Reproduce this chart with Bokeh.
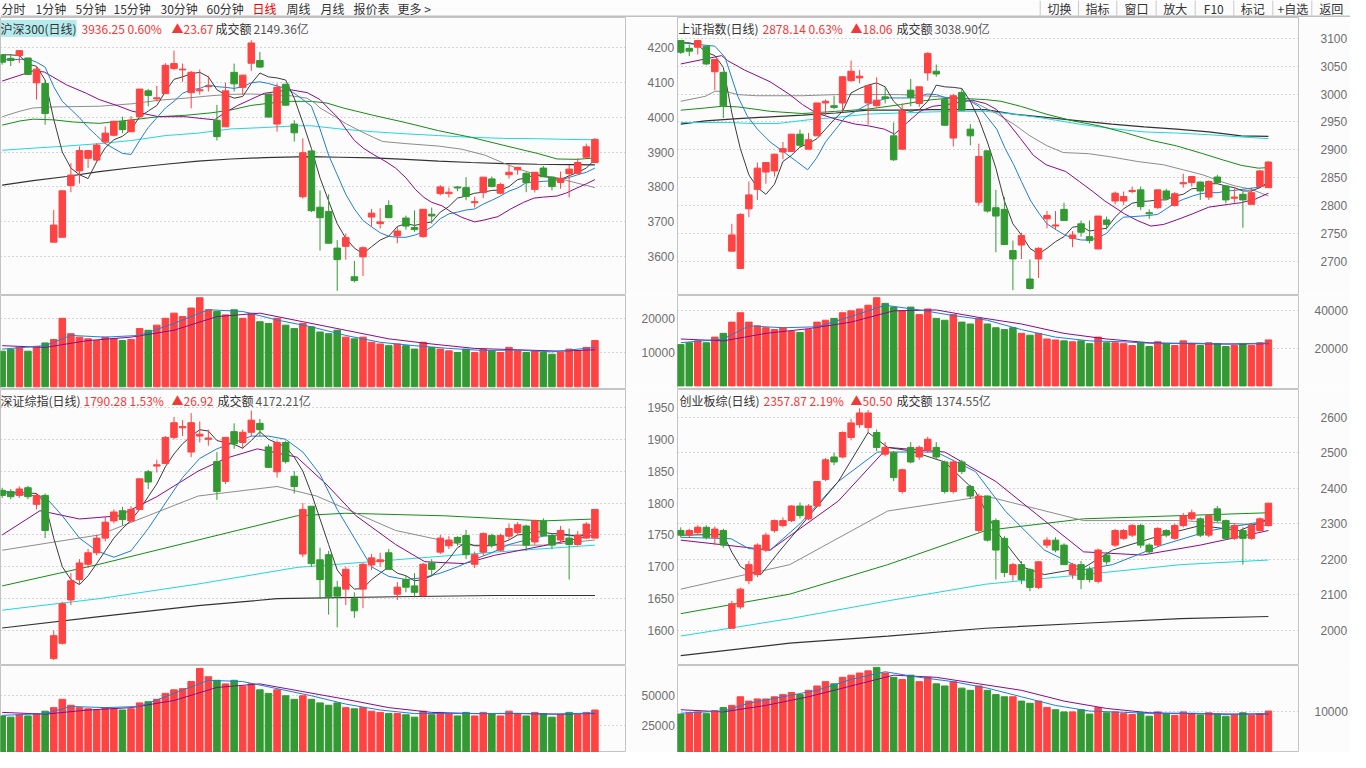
from bokeh.plotting import figure
from bokeh.layouts import column, row
from bokeh.models import Range1d, FixedTicker, Label
from bokeh.embed import file_html
from bokeh.resources import INLINE
from bokeh.core.properties import value

# ================= 沪深300 =================
HS_O = [4178,4168,4176,4169,4098,4096,3642,3656,3804,3846, 3882,3877,3929,3948,3987,3958,4001,4075,4052,4067,
        4139,4135,4070,4075,4087,3991,3972,4128,4085,4154, 4162,4066,3980,4094,3980,3772,3903,3742,3730,3625,
        3630,3543,3600,3714,3695,3747,3660,3711,3684,3658, 3722,3781,3781,3800,3798,3755,3784,3823,3782,3835,
        3849,3839,3793,3854,3828,3813,3838,3839,3885,3870]
HS_H = [4180,4180,4190,4169,4145,4106,3734,3789,3868,3916, 3904,3925,3973,3988,4001,4003,4080,4080,4089,4154,
        4190,4153,4132,4136,4118,4035,4098,4153,4120,4220, 4186,4066,4096,4094,3991,3939,3903,3790,3779,3648,
        3667,3588,3630,3737,3739,3762,3686,3718,3733,3736, 3741,3805,3798,3802,3828,3772,3828,3830,3812,3863,
        3856,3842,3842,3860,3830,3844,3863,3882,3924,3940]
HS_L = [4150,4146,4155,4120,4050,3978,3642,3656,3785,3810, 3854,3872,3924,3945,3954,3958,4001,4031,4045,4067,
        4134,4101,4025,4064,4073,3933,3972,4073,4064,4132, 4141,4000,3958,4033,3930,3767,3728,3618,3639,3503,
        3592,3527,3545,3687,3681,3712,3639,3678,3672,3655, 3695,3776,3770,3788,3762,3741,3768,3799,3779,3824,
        3835,3785,3784,3829,3790,3795,3770,3837,3885,3870]
HS_C = [4157,4162,4190,4122,4137,4010,3691,3789,3834,3904, 3904,3920,3954,3988,3964,3991,4080,4062,4055,4148,
        4153,4137,4128,4078,4089,3944,4075,4095,4120,4212, 4143,4000,4085,4034,3955,3898,3732,3712,3639,3592,
        3655,3532,3626,3725,3700,3712,3674,3688,3678,3736, 3717,3800,3785,3797,3773,3758,3828,3801,3807,3842,
        3856,3812,3842,3829,3801,3825,3851,3870,3915,3936]
HS_MA5_X = list(range(70))
HS_MA5 = [4178,4178,4176,4152,4145,4106,3994,3900,3854,3835, 3824,3872,3912,3935,3945,3964,4001,4017,4033,4073,
          4108,4115,4124,4128,4115,4078,4064,4054,4059,4096, 4126,4115,4112,4106,4054,3984,3910,3826,3760,3695,
          3653,3625,3609,3629,3648,3659,3687,3695,3690,3695, 3700,3728,3744,3768,3774,3782,3785,3790,3791,3801,
          3821,3826,3835,3830,3826,3821,3832,3842,3854,3879]
HS_MA10_X = list(range(70))
HS_MA10 = [4164,4164,4165,4166,4157,4143,4087,4045,4022,3998, 3970,3947,3924,3910,3896,3893,3933,3970,3998,4026,
           4045,4068,4078,4082,4092,4087,4085,4082,4087,4098, 4101,4096,4089,4082,4068,4050,4031,3966,3891,3835,
           3779,3737,3704,3686,3669,3659,3656,3656,3662,3671, 3686,3709,3723,3728,3734,3737,3751,3762,3774,3788,
           3797,3812,3814,3816,3818,3821,3827,3835,3842,3854]
HS_MA20_X = [0,3.6,4.9,7.5,9.8,11.3,13.6,15.1,18.2,21.3,22.8,24.7,25.9,27.4,28.9,30.5,32,33.6,35.5,37,38.1,39.1,40,41,
             42.1,43.2,44.7,45.8,47,48.1,49.1,50,51.2,52.3,53.5,55,56.2,57.7,59.2,60.7,61.9,63,64.6,65.7,66.9,68,69]
HS_MA20 = [4103,4132,4129,4092,4068,4050,4031,4017,4001,4001,3997,3992,4012,4033,4050,4068,4073,4078,4070,4050,4022,3998,
           3966,3933,3910,3893,3872,3854,3826,3793,3770,3756,3746,3728,3713,3700,3706,3715,3737,3756,3768,3771,3774,3783,
           3797,3809,3821]
HS_MA30_X = [0,2.1,3.6,6,11.3,15.1,18.2,21.3,24.3,26.6,28.9,31.2,33.6,35.5,36.4,37,38.6,40.1,41.6,43.2,44.3,47,50.8,
             53.5,56.2,58.4,60.4,62.3,64.6,66.1,67.6,69]
HS_MA30 = [4001,4017,4026,4029,4031,4038,4048,4054,4061,4065,4066,4064,4061,4054,4040,4026,4003,3980,3961,3942,3930,
           3924,3917,3908,3891,3868,3849,3835,3826,3816,3807,3798]
HS_MA60_X = [0,2.1,3.6,6,8.2,11.3,15.1,18.2,21.3,24.3,26.6,28.9,31.2,33.6,36,37.8,39.7,43.2,47,50.8,54.6,58.4,62.3,
             64.6,66.9,69]
HS_MA60 = [3977,3989,3994,3992,3986,3982,3992,4001,4005,4012,4020,4033,4040,4045,4045,4040,4026,4005,3984,3961,3942,
           3919,3896,3880,3879,3883]
HS_MA120_X = [0,3.6,7.5,11.3,15.1,19,22.8,26.6,30.5,34.3,36,39.3,43.2,47,50.8,54.6,58.4,62.3,66.1,69]
HS_MA120 = [3905,3911,3917,3924,3933,3947,3954,3966,3970,3975,3975,3966,3958,3952,3947,3942,3939,3938,3936,3935]
HS_MA250_X = [0,3.6,7.5,11.3,15.1,19,22.8,26.6,30.5,34.3,36,39.3,43.2,47,50.8,54.6,58.4,62.3,66.1,69]
HS_MA250 = [3805,3818,3830,3844,3855,3865,3874,3880,3884,3886,3887,3885,3883,3879,3874,3870,3867,3865,3864,3863]
HS_VOL = [10400,10900,11500,10400,11800,12800,13800,20000,15500,14500, 14000,13500,14500,14000,13500,13800,17000,16500,18000,20000,
          21500,20500,23000,26000,22500,22000,21000,22500,20000,21500, 19000,18500,20000,18000,17000,18500,17500,16000,15500,16500,
          14500,14000,14500,13000,12500,12000,12500,12000,11000,13000, 11500,11000,10500,10000,11000,10000,11000,10500,10000,11500,
          10500,10000,10500,10000,9500,10000,11000,10500,11500,13500]
HS_VMA5_X = [0,5,8,12,16,20,24,28,32,36,40,44,48,52,56,60,64,69]
HS_VMA5 = [11000,12000,15000,14500,15000,18500,22500,22000,19500,17500,15000,13000,12000,11200,10600,10700,10200,11500]
HS_VMA10_X = [0,5,10,15,20,25,30,35,40,45,50,55,60,65,69]
HS_VMA10 = [12000,11500,13500,14500,16500,20500,21500,19000,16500,14000,12500,11200,10800,10400,10800]

# ================= 上证指数 =================
SH_O = [3096,3082,3084,3086,3040,3039,2718,2687,2794,2829, 2860,2862,2896,2897,2928,2901,2925,2984,2979,2984,
        3024,3029,2984,2979,2995,2925,2901,3007,2983,3038, 3041,2990,2921,3003,2937,2806,2898,2796,2793,2719,
        2729,2668,2704,2776,2763,2793,2741,2767,2744,2722, 2774,2808,2808,2825,2828,2787,2796,2826,2800,2839,
        2841,2842,2815,2851,2835,2813,2820,2802,2834,2832]
SH_H = [3096,3089,3096,3086,3062,3039,2767,2786,2843,2877, 2877,2893,2914,2928,2936,2930,2984,2990,2997,3032,
        3060,3043,3015,3030,3013,2949,2983,3027,3013,3075, 3053,2990,3000,3010,2946,2911,2898,2828,2815,2737,
        2751,2703,2725,2790,2790,2805,2754,2773,2773,2781, 2780,2825,2825,2834,2834,2793,2828,2830,2824,2857,
        2852,2843,2845,2855,2835,2833,2825,2832,2864,2879]
SH_L = [3072,3068,3071,3052,3007,2957,2718,2687,2779,2810, 2839,2852,2883,2897,2903,2901,2925,2962,2973,2970,
        3022,3019,2945,2977,2983,2880,2901,2978,2977,3024, 3031,2943,2906,2971,2908,2800,2787,2716,2730,2648,
        2704,2649,2670,2759,2757,2773,2725,2744,2732,2722, 2757,2802,2801,2822,2792,2776,2794,2810,2798,2832,
        2834,2810,2810,2839,2804,2805,2760,2802,2834,2832]
SH_C = [3075,3077,3096,3054,3062,2979,2747,2784,2819,2867, 2877,2892,2902,2928,2908,2918,2984,2987,2976,3031,
        3041,3032,3015,2989,2992,2882,2970,2994,3013,3073, 3036,2944,2997,2971,2925,2888,2790,2781,2730,2704,
        2746,2651,2723,2782,2765,2773,2747,2752,2737,2781, 2766,2822,2816,2827,2798,2785,2828,2812,2821,2841,
        2852,2826,2843,2841,2810,2815,2810,2823,2862,2878]
SH_MA5_X = list(range(70))
SH_MA5 = [3092,3092,3088,3075,3069,3048,2966,2902,2855,2832, 2820,2838,2879,2890,2905,2911,2920,2937,2954,2969,
          3002,3010,3016,3020,3013,2987,2972,2969,2972,2987, 3016,3013,3012,3010,2987,2955,2914,2867,2808,2767,
          2747,2723,2713,2723,2735,2744,2761,2763,2754,2757, 2759,2779,2794,2804,2807,2808,2810,2810,2817,2820,
          2830,2831,2839,2839,2835,2832,2826,2826,2832,2842]
SH_MA10_X = [0,4,5.2,6.7,7.8,9,10.5,12.1,13.6,14.9,15.9,17,18.2,19.3,20.5,21.9,23,24.3,25.8,27.4,28.9,30,31.2,32.7,34,35,
             37.1,38.1,39.1,40,41.1,42.1,43,44.1,45.1,46.1,47,48.1,49.1,50,51,52,53.1,54,55,56,57,58,59,60.1,61,62,63.1,
             64,65,66,67,68,69]
SH_MA10 = [3092,3086,3066,2996,2961,2937,2914,2896,2879,2864,2884,2914,2937,2958,2969,2981,2987,2993,2993,2993,3000,2999,
           2993,2993,2987,2978,2937,2902,2873,2843,2808,2785,2767,2756,2747,2741,2738,2738,2743,2750,2767,2779,2780,2781,
           2782,2784,2794,2804,2811,2817,2821,2823,2823,2826,2827,2829,2831,2833,2838]
SH_MA20_X = [0,2.9,4.8,5.5,7.5,10.5,12.8,14.3,15.9,18.2,20.5,22,23.9,25.1,26.6,28.1,29.6,31.2,32.7,34.2,35.8,37.1,38.4,
             39.9,41.4,42.9,45.2,46.8,48.3,49.8,52.1,53.6,55.2,56.7,58.2,60.1,62,64.3,65.8,67.4,69]
SH_MA20 = [3054,3063,3069,3060,3043,3022,2999,2981,2966,2955,2946,2943,2937,2928,2949,2969,2978,2981,2985,2989,2983,2972,
           2949,2920,2890,2873,2861,2843,2826,2808,2785,2773,2763,2766,2774,2785,2797,2802,2805,2811,2822]
SH_MA30_X = [0,2.9,4,5.2,6.7,8.9,14.3,18.2,22,25.8,29.6,31.9,34.2,35.8,37.2,39.1,41,42.9,44.9,47.9,50.6,53.6,56.7,59,
             61.3,63.6,65.1,67,69]
SH_MA30 = [2987,2996,3005,3005,2999,2997,2997,2999,2999,2999,2996,2993,2987,2975,2964,2946,2925,2908,2895,2893,2887,2879,
           2873,2864,2855,2842,2835,2829,2817]
SH_MA60_X = [0,2.9,4.8,6.7,10.5,14.3,18.2,22,25.8,28.1,29.6,31.9,35.8,37.6,39.9,42.9,46,49.1,52.1,55.2,58.2,61.3,63.6,
             65.8,67.8,69]
SH_MA60 = [2971,2975,2978,2977,2969,2965,2969,2973,2981,2987,2990,2993,2990,2987,2978,2964,2952,2943,2931,2917,2907,2893,
           2882,2872,2867,2868]
SH_MA120_X = [0,5.5,8.6,11.3,15.1,18.2,22,25.8,29.6,33.5,35.8,39.1,42.9,46.8,50.6,54.4,58.2,62,65.8,69]
SH_MA120 = [2949,2949,2947,2947,2954,2958,2964,2966,2968,2969,2969,2964,2956,2946,2938,2932,2930,2927,2923,2920]
SH_MA250_X = [0,2.9,6.7,10.5,14.3,18.2,22,25.8,29.6,33.5,35.8,39.1,42.9,46.8,50.6,54.4,58.2,62,65.8,69]
SH_MA250 = [2946,2952,2956,2959,2962,2966,2971,2971,2972,2972,2972,2964,2958,2952,2946,2941,2937,2932,2925,2924]
SH_VOL = [22000,23000,24000,23000,26000,28000,34000,39000,34000,32000, 31000,30000,31000,29000,28500,30000,34000,35000,36000,39000,
          40000,41000,43000,47000,44000,42000,40000,42000,38000,41000, 36000,35000,38000,34000,33000,36000,33000,31000,30000,31000,
          28000,27000,28000,25000,24500,24000,23500,24000,22500,26000, 23000,23000,22500,21500,23000,21000,23500,22500,21500,24000,
          22500,21500,23000,22500,21000,21500,22500,21500,23000,24500]
SH_VMA5_X = [0,5,8,12,16,20,24,28,32,36,40,44,48,52,56,60,64,69]
SH_VMA5 = [23000,25000,32000,31000,31500,37000,43000,40500,37500,35000,30000,26000,24000,23500,22500,22800,22300,22800]
SH_VMA10_X = [0,5,10,15,20,25,30,35,40,45,50,55,60,65,69]
SH_VMA10 = [25000,24000,28000,30500,34000,40000,40500,36500,33000,28000,25000,23000,22500,22300,22500]

# ================= 深证综指 =================
SZ_O = [1820,1818,1812,1824,1798,1812,1556,1580,1648,1680, 1704,1722,1745,1772,1788,1772,1790,1849,1858,1862,
        1903,1918,1880,1905,1900,1865,1834,1912,1895,1911, 1925,1888,1849,1895,1842,1720,1795,1711,1719,1668,
        1665,1650,1665,1703,1708,1722,1657,1680,1670,1655, 1706,1723,1733,1746,1749,1704,1723,1749,1726,1748,
        1754,1764,1739,1772,1749,1742,1745,1735,1745,1745]
SZ_H = [1824,1822,1826,1827,1816,1815,1600,1645,1690,1712, 1728,1750,1778,1790,1794,1795,1838,1852,1868,1905,
        1935,1930,1941,1928,1915,1880,1903,1925,1915,1945, 1932,1892,1898,1898,1850,1800,1795,1730,1725,1678,
        1700,1660,1706,1720,1722,1728,1676,1686,1690,1706, 1712,1750,1748,1748,1758,1724,1754,1752,1752,1768,
        1770,1766,1774,1776,1752,1764,1760,1756,1770,1790]
SZ_L = [1808,1806,1808,1806,1790,1745,1554,1578,1640,1672, 1698,1718,1740,1768,1765,1770,1790,1822,1848,1862,
        1900,1905,1872,1895,1890,1805,1830,1885,1885,1905, 1905,1855,1840,1862,1815,1715,1700,1650,1625,1605,
        1640,1620,1635,1695,1700,1696,1648,1660,1652,1652, 1685,1720,1728,1733,1712,1698,1718,1730,1724,1742,
        1750,1725,1735,1748,1728,1736,1680,1733,1744,1745]
SZ_C = [1812,1810,1822,1810,1812,1757,1592,1642,1678,1706, 1722,1745,1770,1786,1774,1790,1838,1833,1860,1903,
        1926,1920,1926,1908,1902,1818,1903,1893,1911,1930, 1915,1856,1895,1865,1826,1790,1705,1680,1653,1654,
        1696,1631,1704,1714,1711,1696,1668,1668,1660,1704, 1696,1745,1742,1738,1719,1719,1752,1734,1749,1760,
        1766,1734,1772,1749,1734,1757,1735,1750,1767,1790]
SZ_MA5_X = [0] + list(range(4, 70))
SZ_MA5 = [1818, 1815,1800,1745,1700,1680,1672, 1686,1705,1725,1745,1760,1773,1790,1810,1830,1857,
          1877,1893,1905,1915,1913,1898,1895,1892,1886,1898, 1912,1900,1894,1888,1872,1850,1815,1775,1735,1695,
          1678,1665,1666,1680,1690,1700,1690,1686,1678,1680, 1686,1697,1712,1730,1738,1733,1733,1733,1737,1742,
          1750,1751,1756,1754,1752,1752,1750,1748,1750,1763]
SZ_MA10_X = [0,5,7,9,11,13,15,17,19,21,23,25,27,29,31,33,35,37,39,41,43,45,47,49,51,53,55,57,59,61,63,65,67,69]
SZ_MA10 = [1816,1810,1780,1745,1725,1715,1725,1760,1800,1840,1870,1885,1895,1905,1905,1900,1880,1845,1790,1745,
           1700,1685,1680,1683,1690,1700,1712,1722,1735,1742,1748,1750,1748,1756]
SZ_MA20_X = [0,4.4,9,13.6,18,22.8,26,29.7,34.3,37.7,41.2,45.8,49.2,53.8,57.3,63,69]
SZ_MA20 = [1750,1788,1775,1780,1810,1850,1870,1885,1872,1830,1780,1735,1708,1705,1718,1733,1750]
SZ_MA30_X = [0,11.3,22.8,32,36.6,45.8,53.8,63,69]
SZ_MA30 = [1726,1750,1811,1826,1811,1757,1734,1734,1742]
SZ_MA60_X = [0,11.3,22.8,34.3,40,51.5,63,69]
SZ_MA60 = [1670,1704,1742,1780,1784,1780,1772,1775]
SZ_MA120_X = [0,11.3,22.8,34.3,45.8,57.3,69]
SZ_MA120 = [1632,1650,1673,1699,1711,1723,1734]
SZ_MA250_X = [0,11.3,22.8,32,45.8,57.3,69]
SZ_MA250 = [1604,1622,1639,1650,1653,1655,1655]
SZ_VOL = [33000,32000,34000,33000,35000,37000,40000,47000,42000,40000, 39000,38000,40000,39000,38000,39000,44000,45000,47000,52000,
          55000,56000,62000,73000,66000,63000,60000,63000,58000,60000, 55000,52000,55000,50000,47000,50000,47000,44000,42000,44000,
          40000,39000,40000,37000,36000,35000,35000,34000,32000,37000, 34000,36000,35000,33000,36000,33000,36000,35000,33000,37000,
          35000,33000,36000,35000,32000,34000,36000,34000,36000,38000]
SZ_VMA5_X = [0,5,8,12,16,20,24,28,32,36,40,44,48,52,56,60,64,69]
SZ_VMA5 = [33500,35000,41000,40000,41000,52000,63000,62000,56000,50000,43000,38000,35000,35000,35000,35200,34500,35500]
SZ_VMA10_X = [0,5,10,15,20,25,30,35,40,45,50,55,60,65,69]
SZ_VMA10 = [36000,34500,38000,40000,46000,57000,60000,53500,47000,40000,36000,35000,35000,34500,35000]

# ================= 创业板综 =================
CY_O = [2281,2268,2275,2290,2262,2281,2006,2066,2140,2157, 2226,2281,2295,2309,2350,2314,2350,2425,2488,2488,
        2543,2579,2571,2557,2496,2500,2391,2515,2488,2507, 2515,2474,2391,2474,2405,2281,2378,2309,2259,2157,
        2185,2171,2121,2240,2254,2240,2157,2185,2171,2138, 2212,2240,2259,2268,2295,2240,2240,2281,2259,2295,
        2314,2314,2268,2342,2309,2259,2281,2259,2281,2295]
CY_H = [2290,2286,2296,2296,2292,2286,2083,2120,2195,2245, 2275,2312,2318,2352,2360,2355,2420,2485,2500,2560,
        2595,2625,2620,2565,2530,2505,2455,2530,2520,2545, 2530,2478,2480,2480,2410,2385,2380,2315,2265,2190,
        2195,2175,2195,2262,2262,2245,2190,2195,2180,2230, 2220,2285,2285,2300,2300,2245,2290,2285,2300,2330,
        2340,2318,2326,2350,2312,2300,2290,2300,2318,2358]
CY_L = [2262,2262,2270,2256,2240,2232,2006,2060,2130,2150, 2220,2275,2290,2305,2315,2310,2348,2420,2465,2485,
        2535,2570,2555,2505,2490,2420,2385,2470,2480,2500, 2480,2385,2385,2440,2370,2275,2250,2143,2150,2140,
        2130,2110,2116,2232,2220,2185,2145,2116,2135,2132, 2185,2235,2255,2262,2232,2215,2235,2262,2255,2290,
        2310,2262,2262,2305,2255,2255,2185,2255,2278,2292]
CY_C = [2268,2281,2290,2262,2285,2240,2075,2116,2185,2240, 2268,2309,2309,2350,2323,2350,2419,2480,2474,2557,
        2584,2612,2612,2515,2515,2430,2452,2474,2515,2538, 2488,2391,2474,2447,2378,2378,2254,2226,2163,2185,
        2143,2121,2193,2254,2226,2185,2185,2143,2143,2226, 2193,2281,2281,2295,2240,2221,2287,2268,2295,2323,
        2331,2268,2323,2309,2259,2295,2259,2295,2314,2358]
CY_MA5_X = [0,5,6,7,8,9.4,11.7,15.1,18.5,22,24.3,27,31,34.6,37,40.4,42.7,47.3,50.7,56.5,61,65.6,69]
CY_MA5 = [2268,2270,2220,2180,2165,2157,2226,2323,2419,2557,2515,2505,2474,2391,2281,2176,2157,2176,2226,2268,2295,2281,2314]
CY_MA10_X = [0,5.9,8,10.5,14,18.5,23.1,30,34.6,38.1,42.7,47.3,50.7,56.5,62.2,69]
CY_MA10 = [2262,2258,2230,2226,2300,2419,2502,2502,2447,2336,2226,2171,2185,2240,2281,2309]
CY_MA20_X = [0,10.5,18.5,24.3,31,37,42.7,47.3,54.2,61,69]
CY_MA20 = [2254,2226,2364,2515,2502,2419,2309,2221,2212,2240,2281]
CY_MA30_X = [0,12.8,24.3,35.8,47.3,58.7,69]
CY_MA30 = [2116,2185,2336,2378,2309,2309,2295]
CY_MA60_X = [0,12.8,24.3,35.8,47.3,58.7,69]
CY_MA60 = [2047,2102,2185,2281,2314,2323,2331]
CY_MA120_X = [0,12.8,24.3,35.8,47.3,58.7,69]
CY_MA120 = [1984,2033,2083,2130,2157,2185,2198]
CY_MA250_X = [0,12.8,24.3,35.8,47.3,58.7,69]
CY_MA250 = [1929,1964,1984,2006,2020,2033,2039]
CY_VOL = [9500,9800,10000,9600,10300,11000,11500,13500,12500,13000, 13000,13500,14000,14500,14000,15000,16000,17000,16500,18000,
          18500,19000,19500,20300,19000,18000,17500,18500,17000,18000, 16500,16000,17000,15500,15000,16000,15000,14000,13500,13500,
          12500,12000,12500,11000,10500,10000,10000,10500,9500,11000, 9800,10000,9600,9400,9800,9000,10000,9600,9200,10000,
          9600,9300,9800,9500,9000,9300,9800,9200,9600,10200]
CY_VMA5_X = [0,5,8,12,16,20,24,28,32,36,40,44,48,52,56,60,64,69]
CY_VMA5 = [9700,10200,12000,13500,15000,17500,19300,18000,17000,15500,13500,11500,10200,9900,9600,9700,9400,9600]
CY_VMA10_X = [0,5,10,15,20,25,30,35,40,45,50,55,60,65,69]
CY_VMA10 = [10500,10000,11500,13500,16000,18500,18000,16500,15000,12500,10800,9800,9600,9500,9500]

# ================= styling =================
BG = "#fcfcfc"
RED = "#ff4242"
GREEN = "#339933"
BORDER = "#c4c4c4"
AX_TXT = "#6e6e6e"
NUMF = "Liberation Sans"
CJKF = "Noto Sans CJK SC"
C_MA5, C_MA10, C_MA20, C_MA30 = "#3c3c3c", "#1f7fd6", "#8b0a8b", "#8c8c8c"
C_MA60, C_MA120, C_MA250 = "#168c16", "#22d6e0", "#333333"
RC, DK, GY = "#f03a3a", "#333333", "#555555"

LW, RW = 677, 673
LBR, RBR = 52, 46
XR_L = (-0.195, 72.56)
XR_R = (-0.38, 72.53)
H_TB, H_PT, H_VT, H_PB, H_VB = 17, 278, 94, 276, 87


def base_fig(w, h, xr, yr, ticks, br, standoff):
    p = figure(width=w, height=h, x_range=Range1d(*xr), y_range=Range1d(*yr),
               output_backend="svg", toolbar_location=None, x_axis_location=None,
               y_axis_location="right", min_border_left=0, min_border_top=0,
               min_border_bottom=0, min_border_right=br)
    p.background_fill_color = BG
    p.border_fill_color = BG
    p.outline_line_color = BORDER
    p.xgrid.visible = False
    p.ygrid.grid_line_color = "#b0b0b0"
    p.ygrid.grid_line_dash = "1 3"
    ax = p.yaxis[0]
    ax.ticker = FixedTicker(ticks=ticks)
    ax.axis_line_color = None
    ax.major_tick_line_color = None
    ax.minor_tick_line_color = None
    ax.major_label_text_color = AX_TXT
    ax.major_label_text_font = NUMF
    ax.major_label_text_font_size = "12px"
    ax.major_label_standoff = standoff
    return p


def candles(p, o, h, l, c):
    x = list(range(len(o)))
    cols = [RED if cc >= oo else GREEN for oo, cc in zip(o, c)]
    p.segment(x0=x, y0=h, x1=x, y1=l, line_color=cols, line_width=1)
    top = [max(a, b) for a, b in zip(o, c)]
    bot = [min(a, b) for a, b in zip(o, c)]
    p.vbar(x=x, width=0.76, top=top, bottom=bot, fill_color=cols, line_color=cols, line_width=1)


def header(p, h, parts):
    for txt, x, col, bg in parts:
        lab = Label(x=x, y=h - 11, x_units="screen", y_units="screen", text=txt,
                    text_font=CJKF, text_font_size="12px", text_color=col,
                    text_baseline="middle", text_align="left")
        if bg:
            lab.background_fill_color = bg
        p.add_layout(lab)


def ma(p, xs, ys, col, lw=1.0):
    p.line(xs, ys, line_color=col, line_width=lw)


def price_panel(w, h, xr, yr, ticks, br, o, hi, lo, c, mas, head):
    p = base_fig(w, h, xr, yr, ticks, br, 16)
    for xs, ys, col in zip(mas[0::2], mas[1::2],
                           [C_MA250, C_MA120, C_MA60, C_MA30, C_MA20, C_MA10, C_MA5]):
        ma(p, xs, ys, col, 1.2 if col == C_MA250 else 1.0)
    candles(p, o, hi, lo, c)
    header(p, h, head)
    return p


def vol_panel(w, h, xr, yr, ticks, br, vol, o, c, v5x, v5, v10x, v10, unit_y):
    p = base_fig(w, h, xr, yr, ticks, br, 10)
    x = list(range(len(vol)))
    cols = [RED if cc >= oo else GREEN for oo, cc in zip(o, c)]
    p.vbar(x=x, width=0.76, top=vol, bottom=0, fill_color=cols, line_color=cols)
    ma(p, v10x, v10, C_MA20)
    ma(p, v5x, v5, C_MA10)
    lab = Label(x=w - br + 1, y=unit_y, x_units="screen", y_units="screen", text="X1万",
                text_font=CJKF, text_font_size="12px", text_color=AX_TXT,
                text_baseline="middle", border_line_color="#b0b0b0", background_fill_color=BG)
    p.add_layout(lab)
    return p


tl = price_panel(LW, H_PT, XR_L, (3489.4, 4284.9), [3600, 3700, 3800, 3900, 4000, 4100, 4200], LBR,
                 HS_O, HS_H, HS_L, HS_C,
                 [HS_MA250_X, HS_MA250, HS_MA120_X, HS_MA120, HS_MA60_X, HS_MA60, HS_MA30_X, HS_MA30,
                  HS_MA20_X, HS_MA20, HS_MA10_X, HS_MA10, HS_MA5_X, HS_MA5],
                 [("沪深300(日线)", 0, DK, "#b4ecee"), ("3936.25 0.60%", 81, RC, None),
                  ("▲23.67", 171, RC, None), ("成交额", 215, DK, None), ("2149.36亿", 253, GY, None)])
tlv = vol_panel(LW, H_VT, XR_L, (-800, 26660), [10000, 20000], LBR, HS_VOL, HS_O, HS_C,
                HS_VMA5_X, HS_VMA5, HS_VMA10_X, HS_VMA10, 18)

tr = price_panel(RW, H_PT, XR_R, (2638.4, 3137.4), [2700, 2750, 2800, 2850, 2900, 2950, 3000, 3050, 3100], RBR,
                 SH_O, SH_H, SH_L, SH_C,
                 [SH_MA250_X, SH_MA250, SH_MA120_X, SH_MA120, SH_MA60_X, SH_MA60, SH_MA30_X, SH_MA30,
                  SH_MA20_X, SH_MA20, SH_MA10_X, SH_MA10, SH_MA5_X, SH_MA5],
                 [("上证指数(日线)", 1, DK, None), ("2878.14 0.63%", 85, RC, None),
                  ("▲18.06", 173, RC, None), ("成交额", 219, DK, None), ("3038.90亿", 257, GY, None)])
trv = vol_panel(RW, H_VT, XR_R, (-1932, 48198), [20000, 40000], RBR, SH_VOL, SH_O, SH_C,
                SH_VMA5_X, SH_VMA5, SH_VMA10_X, SH_VMA10, 10)

bl = price_panel(LW, H_PB, XR_L, (1545.2, 1978.1), [1600, 1650, 1700, 1750, 1800, 1850, 1900, 1950], LBR,
                 SZ_O, SZ_H, SZ_L, SZ_C,
                 [SZ_MA250_X, SZ_MA250, SZ_MA120_X, SZ_MA120, SZ_MA60_X, SZ_MA60, SZ_MA30_X, SZ_MA30,
                  SZ_MA20_X, SZ_MA20, SZ_MA10_X, SZ_MA10, SZ_MA5_X, SZ_MA5],
                 [("深证综指(日线)", 0, DK, None), ("1790.28 1.53%", 83, RC, None),
                  ("▲26.92", 171, RC, None), ("成交额", 217, DK, None), ("4172.21亿", 255, GY, None)])
blv = vol_panel(LW, H_VB, XR_L, (2200, 75490), [25000, 50000], LBR, SZ_VOL, SZ_O, SZ_C,
                SZ_VMA5_X, SZ_VMA5, SZ_VMA10_X, SZ_VMA10, 10)

br = price_panel(RW, H_PB, XR_R, (1901.1, 2678.0), [2000, 2100, 2200, 2300, 2400, 2500, 2600], RBR,
                 CY_O, CY_H, CY_L, CY_C,
                 [CY_MA250_X, CY_MA250, CY_MA120_X, CY_MA120, CY_MA60_X, CY_MA60, CY_MA30_X, CY_MA30,
                  CY_MA20_X, CY_MA20, CY_MA10_X, CY_MA10, CY_MA5_X, CY_MA5],
                 [("创业板综(日线)", 2, DK, None), ("2357.87 2.19%", 86, RC, None),
                  ("▲50.50", 173, RC, None), ("成交额", 219, DK, None), ("1374.55亿", 258, GY, None)])
brv = vol_panel(RW, H_VB, XR_R, (604, 20740), [10000], RBR, CY_VOL, CY_O, CY_C,
                CY_VMA5_X, CY_VMA5, CY_VMA10_X, CY_VMA10, 10)

# ---- toolbar
TBW = LW + RW
tb = figure(width=TBW, height=H_TB, x_range=Range1d(0, TBW), y_range=Range1d(0, H_TB),
            output_backend="svg", toolbar_location=None, x_axis_location=None, y_axis_location=None,
            min_border=0)
tb.background_fill_color = BG
tb.border_fill_color = BG
tb.outline_line_color = None
tb.grid.visible = False
menu = ["分时", "1分钟", "5分钟", "15分钟", "30分钟", "60分钟", "日线", "周线", "月线", "报价表", "更多 >"]
menu_x = [1, 35, 75, 113, 160, 206, 252, 286, 320, 353, 397]
menu_c = [DK] * 6 + ["#ee0000"] + [DK] * 4
tb.text(x=menu_x, y=[9.5] * len(menu), text=menu, text_color=menu_c, text_font=value(CJKF),
        text_font_size=value("12px"), text_baseline="middle", text_align="left")
btn = ["切换", "指标", "窗口", "放大", "F10", "标记", "+自选", "返回"]
btn_x = [1059, 1097, 1136, 1174.7, 1213.3, 1252.3, 1292.3, 1330.7]
sep_x = [1039.7, 1078, 1116.3, 1155.7, 1194.7, 1233.3, 1272.3, 1311.3]
tb.text(x=btn_x, y=[9.5] * len(btn), text=btn, text_color=DK, text_font=value(CJKF),
        text_font_size=value("12px"), text_baseline="middle", text_align="center")
tb.segment(x0=sep_x, y0=[2] * 8, x1=sep_x, y1=[H_TB] * 8, line_color="#c8c8c8", line_width=1)
tb.segment(x0=[0], y0=[1], x1=[TBW], y1=[1], line_color="#c0c0c0", line_width=2)

layout = column(tb, row(column(tl, tlv, bl, blv), column(tr, trv, br, brv)))
open("out.html", "w").write(file_html(layout, INLINE))
